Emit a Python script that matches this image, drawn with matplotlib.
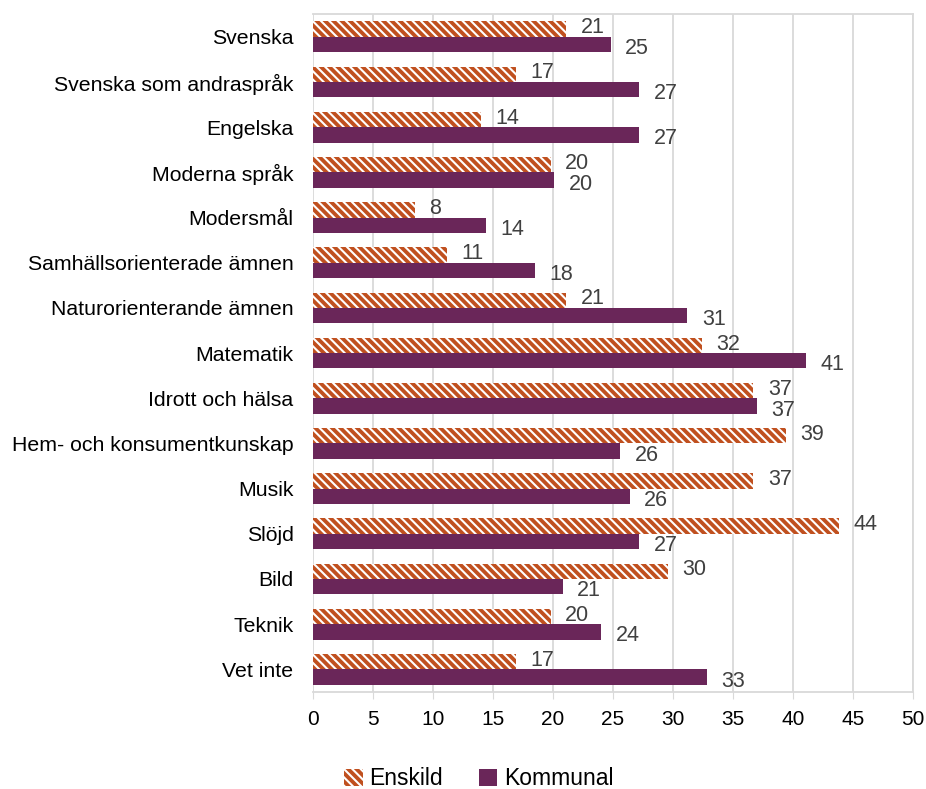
import numpy as np
import matplotlib
matplotlib.use("Agg")
import matplotlib.pyplot as plt

plt.rcParams['font.family'] = ['Liberation Sans', 'DejaVu Sans']
plt.rcParams['hatch.linewidth'] = 1.5

categories = ["Svenska", "Svenska som andraspråk", "Engelska", "Moderna språk",
              "Modersmål", "Samhällsorienterade ämnen", "Naturorienterande ämnen",
              "Matematik", "Idrott och hälsa", "Hem- och konsumentkunskap",
              "Musik", "Slöjd", "Bild", "Teknik", "Vet inte"]
enskild = [21.1, 16.9, 14.0, 19.8, 8.5, 11.2, 21.1, 32.4, 36.7, 39.4, 36.7, 43.8, 29.6, 19.8, 16.9]
kommunal = [24.8, 27.2, 27.2, 20.1, 14.4, 18.5, 31.2, 41.1, 37.0, 25.6, 26.4, 27.2, 20.8, 24.0, 32.8]

orange = "#C0501F"
purple = "#6A2659"
grid_col = "#D9D9D9"

fig = plt.figure(figsize=(9.26, 7.89), dpi=100)
ax = fig.add_axes([0.338, 0.123, 0.648, 0.859])

y = np.arange(len(categories))
h = 0.34
b1 = ax.barh(y - h / 2, enskild, height=h, color=orange, hatch="\\\\\\\\",
             edgecolor="white", linewidth=0, label="Enskild", zorder=3)
b2 = ax.barh(y + h / 2, kommunal, height=h, color=purple, linewidth=0,
             label="Kommunal", zorder=3)

# datalabels, enskild lite uppåt och kommunal lite nedåt så de inte krockar
for rect, v in zip(b1, enskild):
    ax.text(v + 1.2, rect.get_y() + rect.get_height() / 2 - 0.03, f"{v:.0f}",
            ha="left", va="center", fontsize=15.5, color="#404040")
for rect, v in zip(b2, kommunal):
    ax.text(v + 1.2, rect.get_y() + rect.get_height() / 2 + 0.09, f"{v:.0f}",
            ha="left", va="center", fontsize=15.5, color="#404040")

ax.set_xlim(0, 50)
ax.set_xticks(range(0, 51, 5))
ax.set_ylim(len(categories) - 0.5, -0.5)
ax.set_yticks(y)
ax.set_yticklabels(categories)
ax.tick_params(axis="y", length=0, pad=14, labelsize=15.3)
ax.tick_params(axis="x", length=5, color=grid_col, labelsize=15, pad=8)
ax.grid(axis="x", color=grid_col, linewidth=1.3, zorder=0)
for s in ax.spines.values():
    s.set_color(grid_col)
    s.set_linewidth(1.3)
ax.spines["left"].set_visible(False)

fig.legend(handles=[b1, b2], labels=["Enskild", "Kommunal"], loc="lower center",
           bbox_to_anchor=(0.517, -0.028), ncol=2, frameon=False, fontsize=16.5,
           handlelength=0.8, handleheight=0.8, handletextpad=0.3, columnspacing=1.55)

fig.savefig("out.png", dpi=100)
